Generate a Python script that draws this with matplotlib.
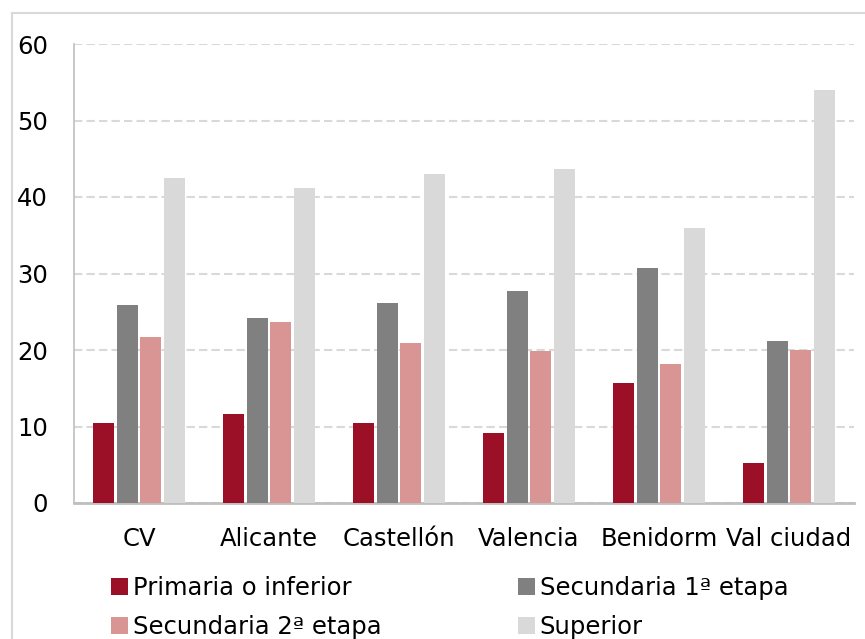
import numpy as np
import matplotlib
matplotlib.use("Agg")
import matplotlib.pyplot as plt
from matplotlib.patches import Patch, Rectangle

# data
regions = ['CV', 'Alicante', 'Castellón', 'Valencia', 'Benidorm', 'Val ciudad']
primaria = [10.5, 11.6, 10.5, 9.1, 15.7, 5.2]
secundaria_1 = [25.9, 24.2, 26.1, 27.7, 30.7, 21.2]
secundaria_2 = [21.7, 23.7, 20.9, 19.9, 18.2, 20.0]
superior = [42.5, 41.2, 43.0, 43.7, 35.9, 54.0]

series_names = ['Primaria o inferior', 'Secundaria 1ª etapa', 'Secundaria 2ª etapa', 'Superior']
series_vals = [primaria, secundaria_1, secundaria_2, superior]
colors = ['#9B1027', '#808080', '#D99594', '#D9D9D9']

plt.rcParams['font.family'] = ['DejaVu Sans']
fs = 17.5

fig = plt.figure(figsize=(8.65, 6.39), dpi=100)
ax = fig.add_axes([74/865, 136/639, 780/865, 459/639])

x = np.arange(len(regions))
step = 0.18
width = 0.162
for i, (name, vals) in enumerate(zip(series_names, series_vals)):
    ax.bar(x + (i - 1.5) * step, vals, width=width, color=colors[i], label=name, zorder=3)

ax.set_xlim(-0.5, len(regions) - 0.5)
ax.set_ylim(0, 60)
ax.set_yticks(range(0, 61, 10))
ax.set_xticks(x)
ax.set_xticklabels(regions)
ax.tick_params(axis='both', length=0, labelsize=fs, colors='black')
ax.tick_params(axis='y', pad=18.7)
ax.tick_params(axis='x', pad=17.3)

ax.yaxis.grid(True, color='#D9D9D9', linestyle=(0, (4, 2)), linewidth=1.5, zorder=0)
ax.spines['right'].set_visible(False)
ax.spines['top'].set_visible(False)
ax.spines['left'].set_color('#BFBFBF')
ax.spines['left'].set_linewidth(1.2)
ax.spines['bottom'].set_color('#BFBFBF')
ax.spines['bottom'].set_linewidth(2)

# outer chart frame (cropped on the right and bottom)
fig.patches.append(Rectangle((12/865, -0.2), 1.2, 1.2 - 13/639, transform=fig.transFigure,
                             fill=False, edgecolor='#D9D9D9', linewidth=1.5))

# legend, filled row-wise
handles = [Patch(facecolor=c) for c in colors]
order = [0, 2, 1, 3]
fig.legend([handles[i] for i in order], [series_names[i] for i in order],
           ncol=2, loc='upper left', bbox_to_anchor=(101.3/865, 1 - 566/639),
           borderaxespad=0, frameon=False, fontsize=fs, handlelength=0.7, handleheight=0.7,
           handletextpad=0.2, columnspacing=5.6, labelspacing=0.63)

fig.savefig('out.png', dpi=100)
